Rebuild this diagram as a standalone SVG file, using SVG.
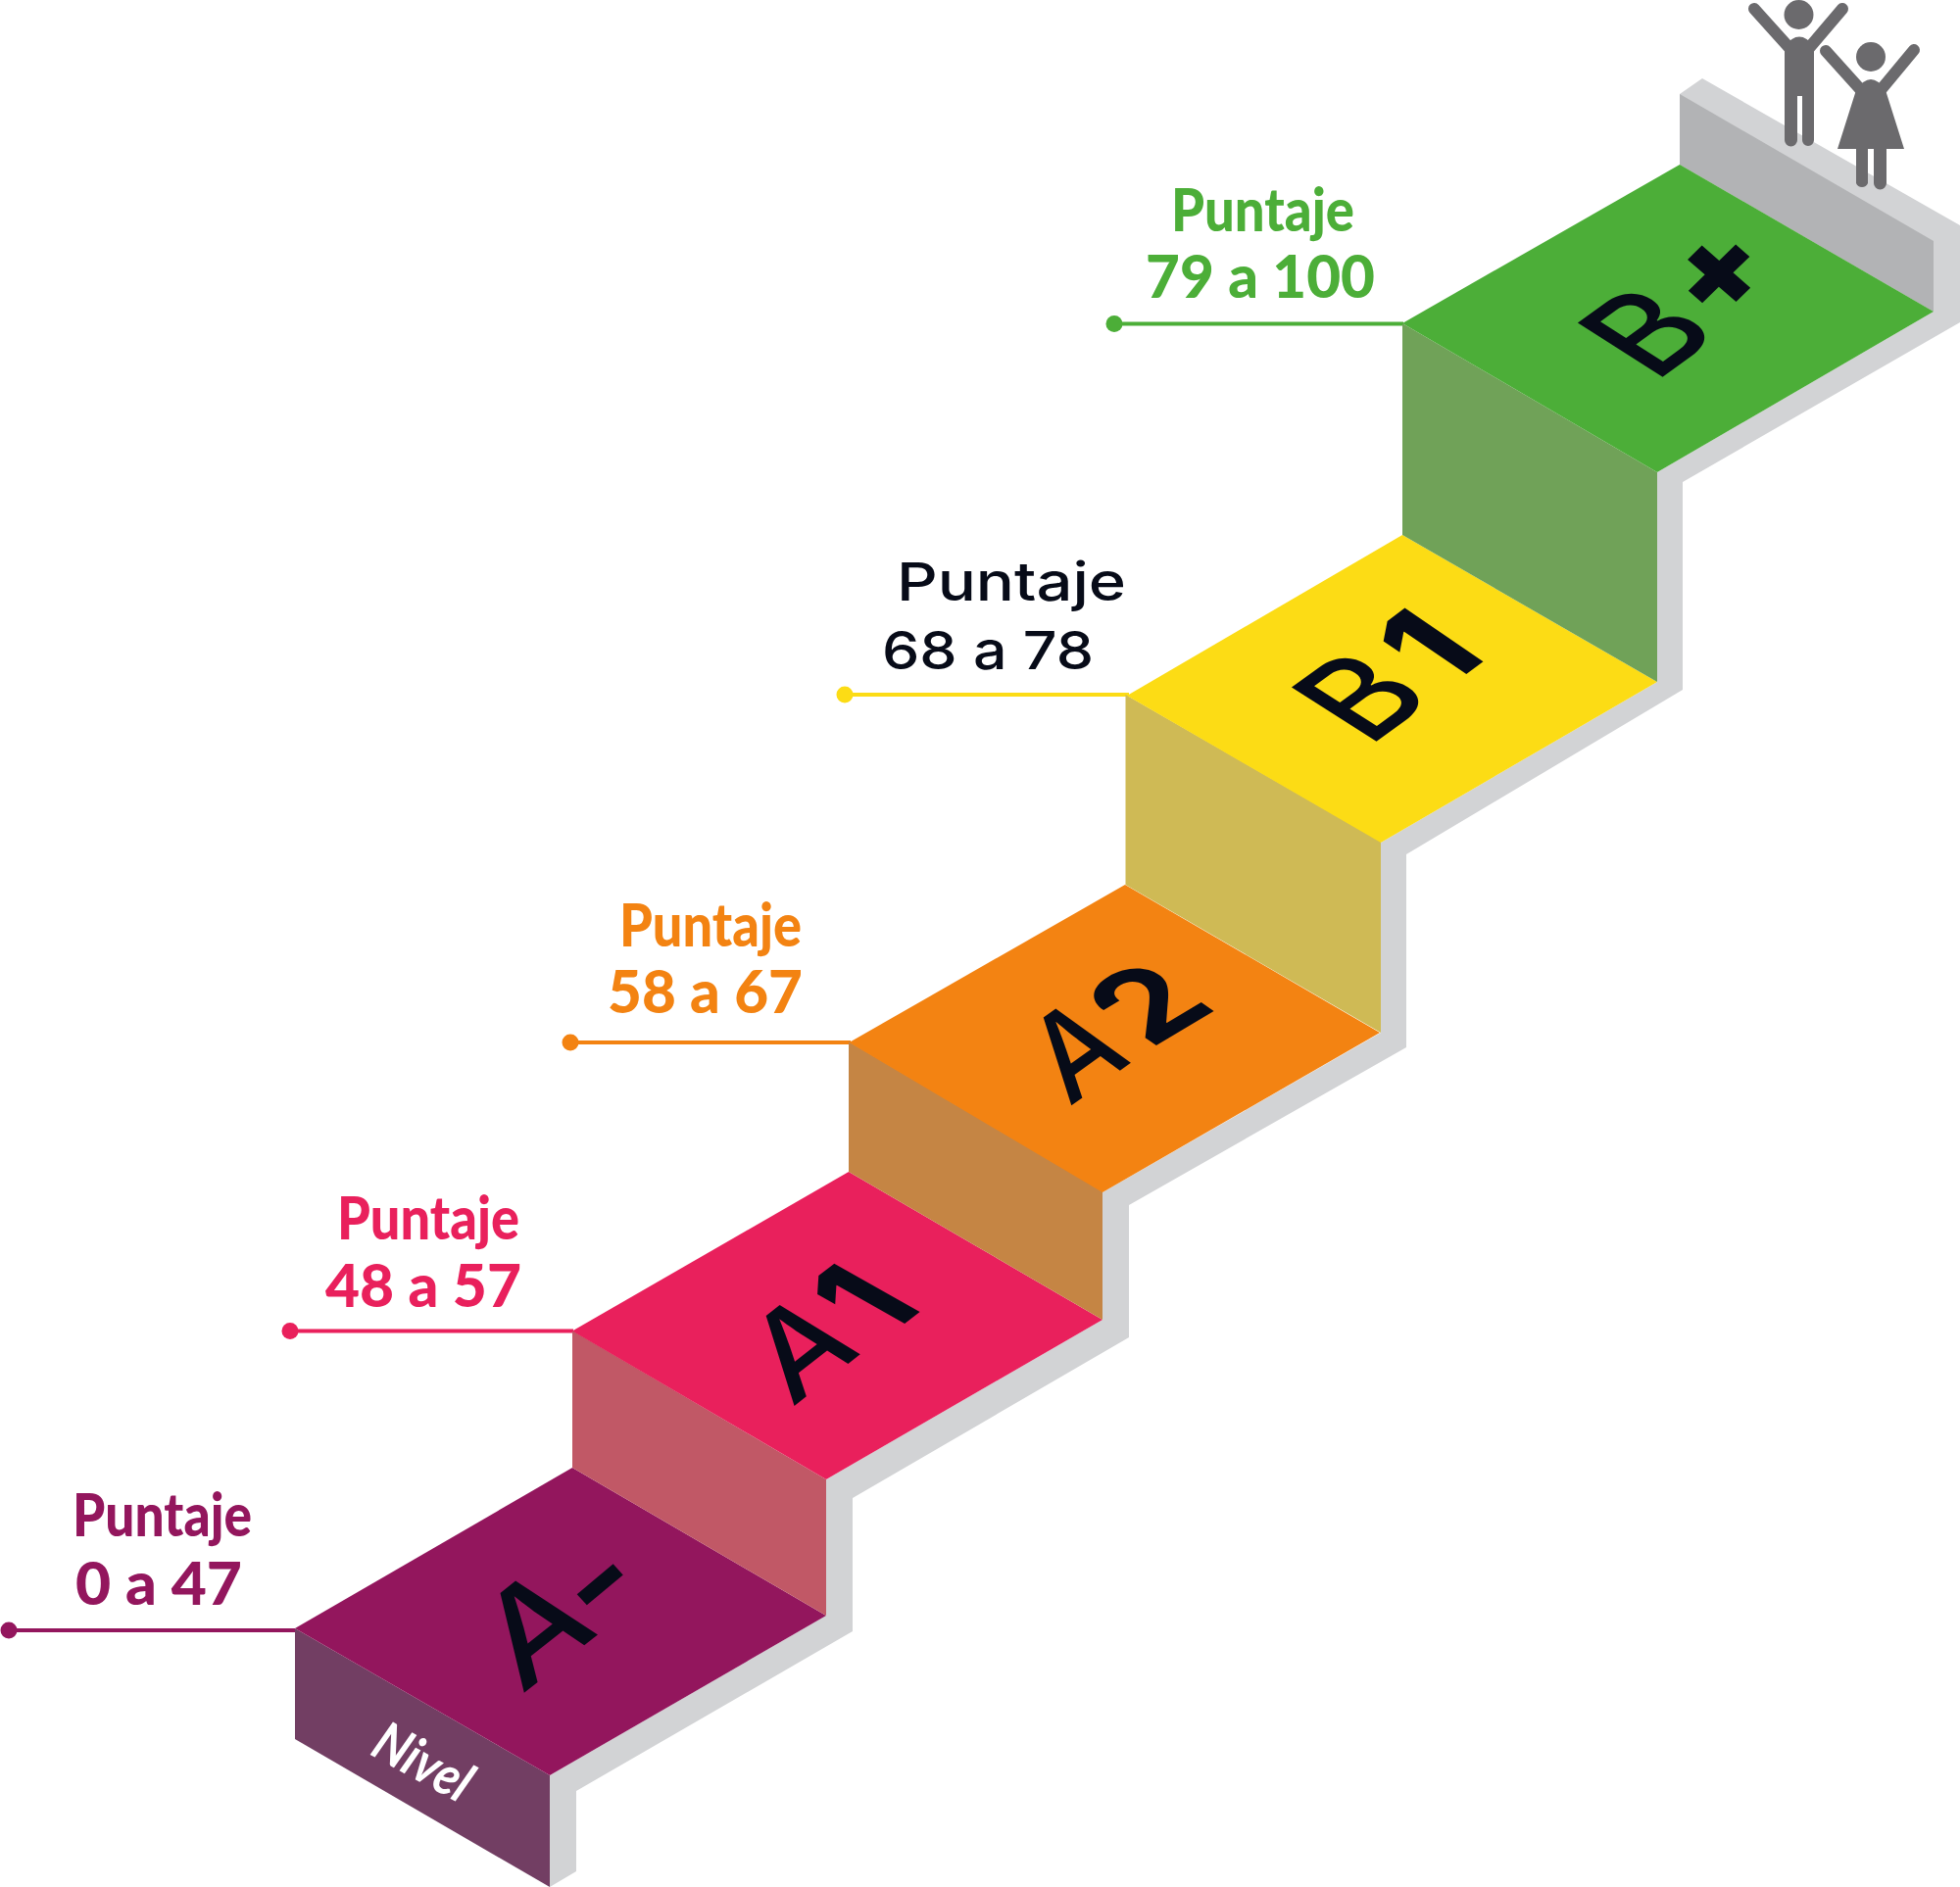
<svg xmlns="http://www.w3.org/2000/svg" width="2000" height="1926" viewBox="0 0 2000 1926">
<style>
.big{font-family:"Inter","Liberation Sans",sans-serif;font-size:100px;font-weight:500;fill:#070b18}
.lab{font-family:"Lato","Liberation Sans",sans-serif;font-size:60px;font-weight:900}
.blk{font-family:"Inter","Liberation Sans",sans-serif;font-size:54px;font-weight:500;fill:#070b18}
.rim{fill:#d2d3d5}.back{fill:#b2b3b5}
.fig{fill:#6b6a6d}.arm{stroke:#6b6a6d;stroke-width:12;stroke-linecap:round;fill:none}
.lead{fill:none;stroke-width:4}
</style>
<rect width="2000" height="1926" fill="#ffffff"/>
<g id="stair-frame">
<polygon class="rim" points="561,1926 588,1910 588,1828 870,1665 870,1529 1152,1365 1152,1230 1435,1069 1435,872 1717,704 1717,492 2000,329 2000,230 1737,80 1714,96 1714,168 1973,318 1691,482 1691,696 1409,860 1409,1054 1125,1217 1125,1347 843,1510 843,1649 561,1812"/>
<polygon class="back" points="1714,96 1973,246 1973,318 1714,168"/>
</g>
<g id="connectors">
<path class="lead" stroke="#93165d" d="M9,1664H301"/><circle cx="9" cy="1664" r="8.500" fill="#93165d"/>
<path class="lead" stroke="#e9205c" d="M296,1358.500H585"/><circle cx="296" cy="1358.500" r="8.500" fill="#e9205c"/>
<path class="lead" stroke="#f38312" d="M582,1064H868"/><circle cx="582" cy="1064" r="8.500" fill="#f38312"/>
<path class="lead" stroke="#fcdc15" d="M862,709H1152"/><circle cx="862" cy="709" r="8.500" fill="#fcdc15"/>
<path class="lead" stroke="#4cae38" d="M1137,330.500H1432"/><circle cx="1137" cy="330.500" r="8.500" fill="#4cae38"/>
</g>
<g id="step-a-minus">
<polygon fill="#723e63" points="301,1662 561,1812 561,1926 301,1775"/>
<polygon fill="#93165d" points="301,1662 584,1498 843,1649 561,1812"/>
<text class="big" transform="matrix(1.14,-.9,.74,1.08,532,1730)">A</text>
<text class="big" style="font-weight:800" transform="matrix(1.1,-.92,.77,.85,609,1664)">-</text>
<text transform="matrix(.43,.235,-.27,.49,376,1790)" style="font-family:'Lato','Liberation Sans',sans-serif;font-size:100px;font-weight:700;font-style:italic;fill:#fff">Nivel</text>
<text class="lab" fill="#93165d" x="74" y="1568" textLength="183" lengthAdjust="spacingAndGlyphs">Puntaje</text>
<text class="lab" fill="#93165d" x="77" y="1638" textLength="170" lengthAdjust="spacingAndGlyphs">0 a 47</text>
</g>
<g id="step-a1">
<polygon fill="#c15866" points="584,1358 843,1510 843,1649 584,1498"/>
<polygon fill="#e9205c" points="584,1358.500 866,1196 1125,1347 843,1510"/>
<text class="big" transform="matrix(1.02,-.8,.76,.98,808,1437)">A</text>
<text class="big" style="font-weight:800" transform="matrix(.9,-.7,1.2,.68,904,1366)">1</text>
<text class="lab" fill="#e9205c" x="344" y="1265" textLength="186" lengthAdjust="spacingAndGlyphs">Puntaje</text>
<text class="lab" fill="#e9205c" x="332" y="1334" textLength="200" lengthAdjust="spacingAndGlyphs">48 a 57</text>
</g>
<g id="step-a2">
<polygon fill="#c58544" points="866,1063 1125,1216 1125,1347 866,1196"/>
<polygon fill="#f38312" points="866.500,1064 1148,903 1408,1054 1125,1217"/>
<text class="big" transform="matrix(.92,-.66,.72,1,1091,1130)">A</text>
<text class="big" style="font-weight:700" transform="matrix(1.14,-.68,1.05,.72,1173,1071)">2</text>
<text class="lab" fill="#f38312" x="632" y="966" textLength="186" lengthAdjust="spacingAndGlyphs">Puntaje</text>
<text class="lab" fill="#f38312" x="620" y="1034" textLength="199" lengthAdjust="spacingAndGlyphs">58 a 67</text>
</g>
<g id="step-b1">
<polygon fill="#cfba55" points="1148.500,709 1409,859 1409,1054 1148.500,903"/>
<polygon fill="#fcdc15" points="1150,710 1431,546 1691,696 1409,860"/>
<text class="big" transform="matrix(1.06,-.77,1.19,.76,1396,763)">B</text>
<text class="big" style="font-weight:800" transform="matrix(1,-.75,1.1,.75,1475,704)">1</text>
<text class="blk" x="915" y="613" textLength="234" lengthAdjust="spacingAndGlyphs">Puntaje</text>
<text class="blk" x="900" y="683" textLength="216" lengthAdjust="spacingAndGlyphs">68 a 78</text>
</g>
<g id="step-b-plus">
<polygon fill="#70a258" points="1431,330 1691,482 1691,696 1431,546"/>
<polygon fill="#4cae38" points="1431,330 1714,168 1973,318 1691,482"/>
<text class="big" transform="matrix(1.06,-.77,1.19,.76,1688,391)">B</text>
<text class="big" style="font-weight:900" text-anchor="middle" transform="matrix(.92,-.9,.94,.82,1782,303.500)">+</text>
<text class="lab" fill="#4cae38" x="1195" y="236" textLength="187" lengthAdjust="spacingAndGlyphs">Puntaje</text>
<text class="lab" fill="#4cae38" x="1169" y="304" textLength="234" lengthAdjust="spacingAndGlyphs">79 a 100</text>
</g>
<g id="figures">
<ellipse class="fig" cx="1835.500" cy="15" rx="15" ry="15"/>
<path class="arm" d="M1790,9L1826,49M1880,9L1846,49"/>
<path class="fig" d="M1821,47Q1836,28 1851,47V143A6,6 0 0 1 1839,143V98H1834V143A6,6 0 0 1 1821,143Z"/>
<ellipse class="fig" cx="1909" cy="58" rx="15" ry="15"/>
<path class="arm" d="M1863,52L1899,92M1953,51L1919,92"/>
<path class="fig" d="M1894,92Q1909,70 1924,92L1943,152H1925V187A6.500,6.500 0 0 1 1912,187V152H1906V187A6.500,6.500 0 0 1 1894,187V152H1875Z"/>
</g>
</svg>
